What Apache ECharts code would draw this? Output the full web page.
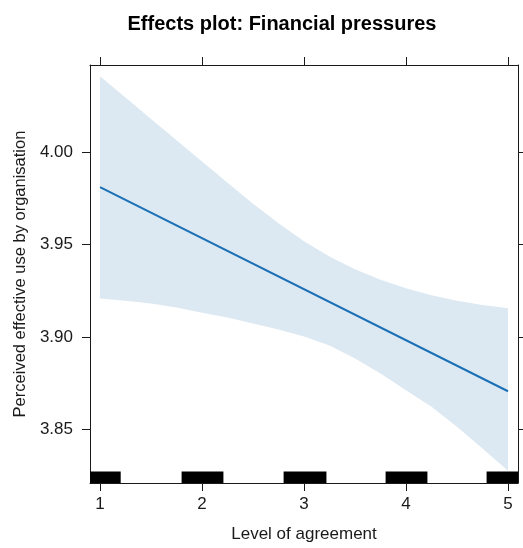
<!DOCTYPE html>
<html>
<head>
<meta charset="utf-8">
<script src="https://cdn.jsdelivr.net/npm/echarts@6/dist/echarts.min.js"></script>
<style>
  html, body { margin: 0; padding: 0; background: #fff; }
  #chart { width: 523px; height: 548px; }
</style>
</head>
<body>
<div id="chart"></div>
<script>
// Effect of financial pressures on perceived effective use, with 95% band
const levels  = [1, 1.25, 1.5, 1.75, 2, 2.25, 2.5, 2.75, 3, 3.25, 3.5, 3.75, 4, 4.25, 4.5, 4.75, 5];
const upperCI = [4.0409, 4.0294, 4.0178, 4.0063, 3.9948, 3.9833, 3.9720, 3.9615, 3.9517, 3.9434, 3.9366, 3.9309, 3.9263, 3.9225, 3.9196, 3.9172, 3.9155];
const lowerCI = [3.9208, 3.9195, 3.9181, 3.9159, 3.9130, 3.9105, 3.9072, 3.9040, 3.9002, 3.8953, 3.8883, 3.8802, 3.8712, 3.8622, 3.8514, 3.8397, 3.8276];
const fitX = [1, 5];
const fitY = [3.981, 3.8706];

// Rug of (jittered) observed agreement levels, as covered spans on the x axis
const rugStart = [0.85, 1.80, 2.80, 3.80, 4.79];
const rugEnd = [1.203, 2.21, 3.22, 4.21, 5.2];

const xTicks = [1, 2, 3, 4, 5];
const yTicks = [3.85, 3.90, 3.95, 4.00];

const X_MIN = 0.902, X_MAX = 5.098;
const Y_MIN = 3.821, Y_MAX = 4.047;

const FONT = 'Liberation Sans, Arial, sans-serif';
const INK = '#1a1a1a';

const chart = echarts.init(document.getElementById('chart'), null, { renderer: 'canvas' });

const fitSeries = fitX.map((x, i) => [x, fitY[i]]);
const rugData = rugStart.map((s, i) => [s, rugEnd[i]]);

const xBase = {
  type: 'value', min: X_MIN, max: X_MAX,
  axisLine: { show: true, onZero: false, lineStyle: { color: INK, width: 1 } },
  splitLine: { show: false },
  axisTick: { show: true, length: 8, customValues: xTicks, lineStyle: { color: INK } },
};
const yBase = {
  type: 'value', min: Y_MIN, max: Y_MAX,
  axisLine: { show: true, onZero: false, lineStyle: { color: INK, width: 1 } },
  splitLine: { show: false },
  axisTick: { show: true, length: 8, customValues: yTicks, lineStyle: { color: INK } },
};

chart.setOption({
  animation: false,
  backgroundColor: '#fff',
  title: {
    text: 'Effects plot: Financial pressures',
    left: 277, top: 9, textAlign: 'center',
    textStyle: { fontFamily: FONT, fontSize: 20, fontWeight: 'bold', color: '#000' }
  },
  grid: { left: 90, right: 5, top: 65, bottom: 65 },
  xAxis: [
    Object.assign({}, xBase, {
      position: 'bottom',
      name: 'Level of agreement', nameLocation: 'middle', nameGap: 43,
      nameTextStyle: { fontFamily: FONT, fontSize: 17, color: INK },
      axisLabel: { show: true, customValues: xTicks, margin: 13,
        fontFamily: FONT, fontSize: 17, color: INK }
    }),
    Object.assign({}, xBase, { position: 'top', axisLabel: { show: false } })
  ],
  yAxis: [
    Object.assign({}, yBase, {
      position: 'left',
      name: 'Perceived effective use by organisation', nameLocation: 'middle', nameGap: 60,
      nameTextStyle: { fontFamily: FONT, fontSize: 16.5, color: INK },
      axisLabel: { show: true, customValues: yTicks, margin: 17,
        fontFamily: FONT, fontSize: 17, color: INK,
        formatter: v => v.toFixed(2) }
    }),
    Object.assign({}, yBase, { position: 'right', axisLabel: { show: false },
      axisTick: Object.assign({}, yBase.axisTick, { length: 5 }) })
  ],
  series: [
    {
      // confidence band: upper edge left-to-right, lower edge back
      type: 'custom', data: [[levels[0], lowerCI[0]]], z: 1, silent: true,
      renderItem: (params, api) => {
        const pts = [];
        for (let i = 0; i < levels.length; i++) pts.push(api.coord([levels[i], upperCI[i]]));
        for (let i = levels.length - 1; i >= 0; i--) pts.push(api.coord([levels[i], lowerCI[i]]));
        return { type: 'polygon', shape: { points: pts }, style: { fill: '#dde9f2' } };
      }
    },
    {
      type: 'line', data: fitSeries, symbol: 'none',
      lineStyle: { color: '#1a6fb5', width: 2 }, z: 3
    },
    {
      type: 'custom', data: rugData, clip: true, z: 4,
      renderItem: (params, api) => {
        const a = api.coord([api.value(0), Y_MIN]);
        const b = api.coord([api.value(1), Y_MIN]);
        return {
          type: 'rect',
          shape: { x: a[0], y: a[1] - 11.5, width: b[0] - a[0], height: 11.5 },
          style: { fill: '#000' }
        };
      },
      encode: { x: [0, 1] }
    }
  ]
});
</script>
</body>
</html>
